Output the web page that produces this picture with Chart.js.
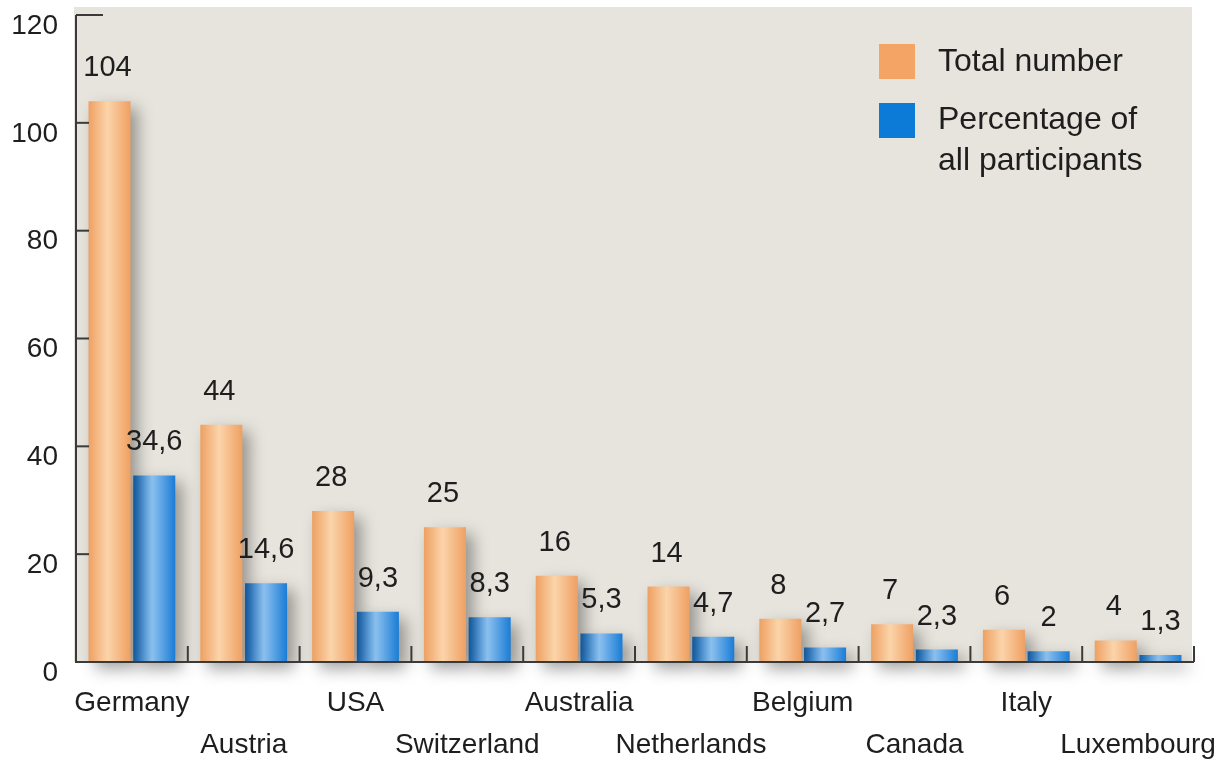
<!DOCTYPE html>
<html>
<head>
<meta charset="utf-8">
<script src="https://cdn.jsdelivr.net/npm/chart.js@4.4.1/dist/chart.umd.min.js"></script>
<style>
  html, body { margin: 0; padding: 0; background: #ffffff; }
  #wrap { width: 1227px; height: 760px; position: relative; }
</style>
</head>
<body>
<div id="wrap"><canvas id="c" width="1227" height="760"></canvas></div>
<script>
const categories = ['Germany', 'Austria', 'USA', 'Switzerland', 'Australia', 'Netherlands', 'Belgium', 'Canada', 'Italy', 'Luxembourg'];
const totalNumber = [104, 44, 28, 25, 16, 14, 8, 7, 6, 4];
const percentageOfAll = [34.6, 14.6, 9.3, 8.3, 5.3, 4.7, 2.7, 2.3, 2, 1.3];
const yTicks = [0, 20, 40, 60, 80, 100, 120];
const seriesNames = ['Total number', ['Percentage of', 'all participants']];

const FONT = '"Liberation Sans", Arial, sans-serif';
const CAT_PCT = 0.8, BAR_PCT = 0.94;

function barGradient(ctx, stops) {
  const chart = ctx.chart;
  const xs = chart.scales && chart.scales.x;
  if (!xs || ctx.dataIndex === undefined || !isFinite(xs.width) || xs.width <= 0) return stops[0];
  const catW = xs.width / categories.length;
  const slot = catW * CAT_PCT / 2;
  const bw = slot * BAR_PCT;
  const center = xs.getPixelForValue(ctx.dataIndex) + (ctx.datasetIndex === 0 ? -slot / 2 : slot / 2);
  const g = chart.ctx.createLinearGradient(center - bw / 2, 0, center + bw / 2, 0);
  g.addColorStop(0, stops[0]);
  g.addColorStop(0.45, stops[1]);
  g.addColorStop(1, stops[2]);
  return g;
}

const decor = {
  id: 'decor',
  beforeDraw(chart) {
    const { ctx, chartArea: a } = chart;
    ctx.save();
    ctx.fillStyle = '#e7e4dd';
    ctx.fillRect(a.left - 2, 7, a.right - a.left, a.bottom - 7);
    ctx.restore();
  },
  beforeDatasetsDraw(chart) {
    const ctx = chart.ctx;
    ctx.save();
    ctx.shadowColor = 'rgba(0,0,0,0.36)';
    ctx.shadowBlur = 16;
    ctx.shadowOffsetX = 7;
    ctx.shadowOffsetY = 7;
  },
  afterDatasetsDraw(chart) {
    const { ctx, chartArea: a, scales } = chart;
    ctx.restore();
    ctx.save();
    // axes
    ctx.strokeStyle = '#3a3a3a';
    ctx.lineWidth = 2;
    ctx.beginPath();
    ctx.moveTo(a.left, scales.y.getPixelForValue(120));
    ctx.lineTo(a.left, a.bottom);
    ctx.lineTo(a.right, a.bottom);
    ctx.stroke();
    // y ticks (inside)
    yTicks.forEach(v => {
      if (v === 0) return;
      const y = scales.y.getPixelForValue(v);
      ctx.beginPath();
      ctx.moveTo(a.left, y);
      ctx.lineTo(a.left + (v === 120 ? 27 : 13), y);
      ctx.stroke();
    });
    // x category boundary ticks
    const catW = (a.right - a.left) / categories.length;
    for (let i = 1; i <= categories.length; i++) {
      const x = a.left + i * catW;
      ctx.beginPath();
      ctx.moveTo(x, a.bottom);
      ctx.lineTo(x, a.bottom - 16);
      ctx.stroke();
    }
    // value labels
    ctx.fillStyle = '#1e1e1e';
    ctx.font = '29px ' + FONT;
    ctx.textAlign = 'center';
    ctx.textBaseline = 'middle';
    chart.data.datasets.forEach((ds, di) => {
      chart.getDatasetMeta(di).data.forEach((el, i) => {
        const txt = String(ds.data[i]).replace('.', ',');
        ctx.fillText(txt, el.x - (di === 0 ? 2 : 0), el.y - 33);
      });
    });
    // legend
    const legendColors = ['#f4a565', '#0c7bd8'];
    const boxY = [44, 103];
    ctx.font = '32px ' + FONT;
    ctx.textAlign = 'left';
    legendColors.forEach((c, i) => {
      ctx.fillStyle = c;
      ctx.fillRect(879, boxY[i], 36, 35);
    });
    ctx.fillStyle = '#1e1e1e';
    ctx.fillText(seriesNames[0], 938, 62);
    ctx.fillText(seriesNames[1][0], 938, 120);
    ctx.fillText(seriesNames[1][1], 938, 161);
    ctx.restore();
  }
};

new Chart(document.getElementById('c'), {
  type: 'bar',
  data: {
    labels: categories,
    datasets: [
      {
        label: 'Total number',
        data: totalNumber,
        backgroundColor: (ctx) => barGradient(ctx, ['#eea062', '#fbd4aa', '#efa062']),
        categoryPercentage: CAT_PCT,
        barPercentage: BAR_PCT,
        borderWidth: 0,
        clip: false
      },
      {
        label: 'Percentage of all participants',
        data: percentageOfAll,
        backgroundColor: (ctx) => barGradient(ctx, ['#1873cc', '#8cc1ef', '#1a7cd6']),
        categoryPercentage: CAT_PCT,
        barPercentage: BAR_PCT,
        borderWidth: 0,
        clip: false
      }
    ]
  },
  options: {
    responsive: false,
    animation: false,
    events: [],
    layout: { padding: { top: 15, right: 33, left: 0, bottom: 0 } },
    plugins: { legend: { display: false }, tooltip: { enabled: false } },
    scales: {
      x: {
        grid: { display: false, drawTicks: false },
        border: { display: false },
        ticks: {
          autoSkip: false,
          maxRotation: 0,
          padding: 20,
          color: '#1e1e1e',
          font: { family: FONT, size: 28, lineHeight: 1.5 },
          callback: (v, i) => (i % 2 === 0 ? [categories[i]] : ['', categories[i]])
        },
        afterFit: (s) => { s.height = 98; s.paddingLeft = 0; s.paddingRight = 0; }
      },
      y: {
        min: 0,
        max: 120,
        afterBuildTicks: (s) => { s.ticks = yTicks.map(v => ({ value: v })); },
        grid: { display: false, drawTicks: false },
        border: { display: false },
        ticks: {
          padding: 18,
          labelOffset: 11,
          color: '#1e1e1e',
          font: { family: FONT, size: 28 }
        },
        afterFit: (s) => { s.width = 76; s.paddingTop = 0; s.paddingBottom = 0; }
      }
    }
  },
  plugins: [decor]
});
</script>
</body>
</html>
